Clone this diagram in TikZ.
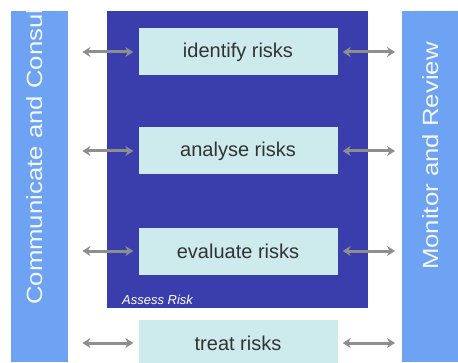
\documentclass[tikz,border=0pt]{standalone}
\usepackage{fontspec}
\usepackage{graphicx}
\setmainfont{Liberation Sans}
\usetikzlibrary{arrows.meta}
\definecolor{barblue}{HTML}{6EA2F2}
\definecolor{assessblue}{HTML}{3A3EAC}
\definecolor{stepfill}{HTML}{CDEBEC}
\definecolor{linkgray}{HTML}{8E8E8E}
\newcommand{\widetext}[1]{\scalebox{1.17}[1]{#1}}
\begin{document}
\begin{tikzpicture}[x=1pt,y=1pt,
    sidebar/.style={fill=barblue, inner sep=0pt, minimum width=57pt, minimum height=351pt, anchor=south west},
    riskbox/.style={fill=stepfill, inner sep=0pt, minimum width=199pt, minimum height=47pt,
      text=black!80, font=\fontsize{20}{24}\selectfont},
    bartext/.style={rotate=90, anchor=base west, inner sep=0pt, text=white!92!barblue,
      font=\fontsize{22}{26}\selectfont},
    link/.style={linkgray, line width=3pt, {Stealth[length=8pt,width=10pt]}-{Stealth[length=8pt,width=10pt]}}]
\useasboundingbox (0,0) rectangle (458,362);
% Draw the side bars and the assess block
\node[sidebar] (comm) at (11,0) {};
\node[sidebar, minimum width=60pt] (mon) at (402,0) {};
\fill[assessblue] (107,54) rectangle (368,351);
\node[anchor=base west, inner sep=0pt, text=white, font=\fontsize{13}{15}\selectfont\itshape]
  (assess) at (122,58) {Assess Risk};
% Draw the bar labels
\begin{scope}
  \clip (comm.south west) rectangle (comm.north east);
  \node[bartext] (commtext) at (42,57) {\widetext{Communicate and Consult}};
\end{scope}
\node[bartext] (montext) at (438,92) {\widetext{Monitor and Review}};
% Draw the steps
\node[riskbox] (identify) at (238,310) {identify risks};
\node[riskbox] (analyse)  at (238,211) {analyse risks};
\node[riskbox] (evaluate) at (238,111) {evaluate risks};
\node[riskbox] (treat)    at (238,19)  {treat risks};
% Draw the arrows
\foreach \s in {identify,analyse,evaluate,treat}{
  \draw[link, shorten <=14pt, shorten >=5pt] (comm.east |- \s.west) -- (\s.west);
  \draw[link, shorten <=5pt, shorten >=7pt] (\s.east) -- (mon.west |- \s.east);
}
\end{tikzpicture}
\end{document}
